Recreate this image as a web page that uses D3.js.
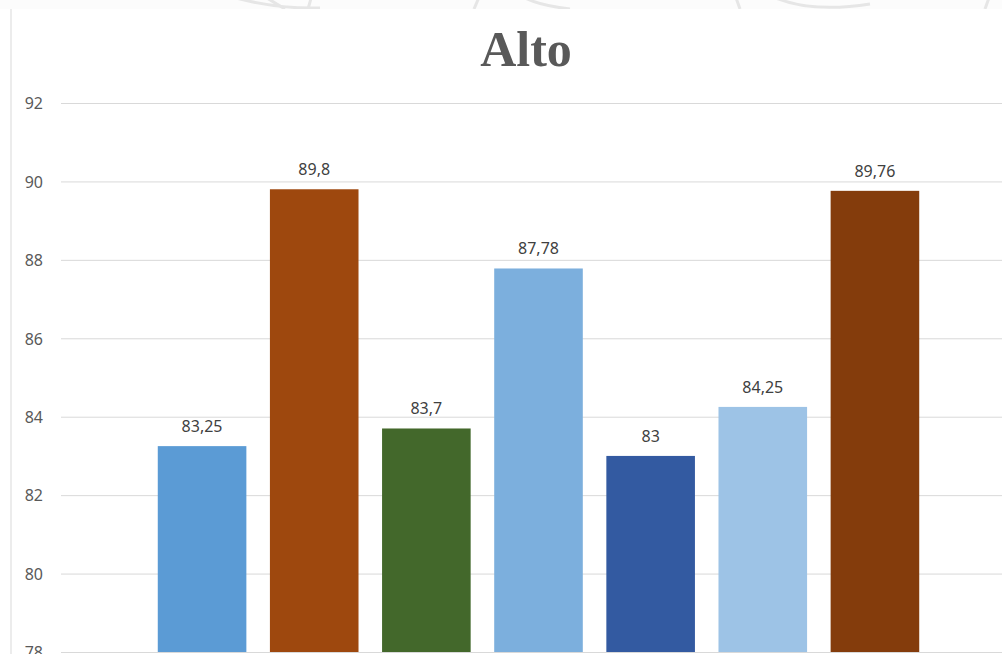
<!DOCTYPE html>
<html>
<head>
<meta charset="utf-8">
<script src="https://cdn.jsdelivr.net/npm/d3@7/dist/d3.min.js"></script>
<style>
  html, body { margin: 0; padding: 0; background: #ffffff; }
  svg { display: block; }
</style>
</head>
<body>
<svg id="chart" width="1002" height="654"></svg>
<script>
// Chart data
const categories = ["S1", "S2", "S3", "S4", "S5", "S6", "S7"];
const values = [83.25, 89.8, 83.7, 87.78, 83, 84.25, 89.76];
const barColors = ["#5b9bd5", "#9e480e", "#43682b", "#7cafdd", "#335aa1", "#9dc3e6", "#843c0c"];
const yTicks = [78, 80, 82, 84, 86, 88, 90, 92];
const titleText = "Alto";

const svg = d3.select("#chart");
const W = 1002, H = 654;

// Faint decorative strip along the top edge
const defs = svg.append("defs");
defs.append("clipPath").attr("id", "topStrip")
  .append("rect").attr("x", 0).attr("y", 0).attr("width", W).attr("height", 9);
const deco = svg.append("g").attr("clip-path", "url(#topStrip)");
deco.append("rect").attr("x", 0).attr("y", 0).attr("width", W).attr("height", 9).attr("fill", "#fcfcfc");
const decoPaths = [
  "M150,-40 Q230,10 320,8",
  "M262,-5 L285,9",
  "M312,-5 L308,9",
  "M480,-5 L474,9",
  "M520,-5 Q535,5 570,9",
  "M735,-5 L740,9",
  "M760,-10 Q800,15 870,4",
  "M990,-5 L985,9"
];
deco.selectAll("path").data(decoPaths).join("path")
  .attr("d", d => d)
  .attr("fill", "none")
  .attr("stroke", "#e6e6e6")
  .attr("stroke-width", 3);

// Chart frame edge
svg.append("line")
  .attr("x1", 11).attr("x2", 11)
  .attr("y1", 9).attr("y2", H)
  .attr("stroke", "#d9d9d9").attr("stroke-width", 1);

// Scales
const y = d3.scaleLinear().domain([78, 92]).range([652, 103]);
const x = d3.scaleBand().domain(categories)
  .range([146, 931])
  .paddingInner(0.21)
  .paddingOuter(0.105);

// Gridlines and tick labels via a left axis
const yAxis = d3.axisLeft(y).tickValues(yTicks).tickSize(-(W - 61)).tickPadding(18).tickFormat(d3.format("d"));
const axisG = svg.append("g")
  .attr("transform", "translate(61,0)")
  .call(yAxis);
axisG.select(".domain").remove();
axisG.selectAll(".tick line")
  .attr("stroke", "#d9d9d9").attr("stroke-width", 1);
axisG.selectAll(".tick text")
  .attr("fill", "#595959")
  .attr("font-family", "'Noto Sans', 'Open Sans', sans-serif")
  .attr("font-size", 16)
  .attr("dy", "0.36em");

// Title
svg.append("text")
  .attr("x", 526).attr("y", 66)
  .attr("text-anchor", "middle")
  .attr("font-family", "'Liberation Serif', 'Times New Roman', serif")
  .attr("font-weight", "bold")
  .attr("font-size", 50)
  .attr("fill", "#595959")
  .text(titleText);

// Bars
const data = categories.map((c, i) => ({ c, v: values[i], color: barColors[i] }));
svg.append("g").selectAll("rect").data(data).join("rect")
  .attr("x", d => x(d.c))
  .attr("width", x.bandwidth())
  .attr("y", d => y(d.v))
  .attr("height", d => y(78) - y(d.v))
  .attr("fill", d => d.color);

// Value labels
const fmt = v => String(v).replace(".", ",");
svg.append("g").selectAll("text").data(data).join("text")
  .attr("x", d => x(d.c) + x.bandwidth() / 2)
  .attr("y", d => y(d.v) - 14)
  .attr("text-anchor", "middle")
  .attr("font-family", "'Noto Sans', 'Open Sans', sans-serif")
  .attr("font-size", 16)
  .attr("fill", "#404040")
  .text(d => fmt(d.v));
</script>
</body>
</html>
